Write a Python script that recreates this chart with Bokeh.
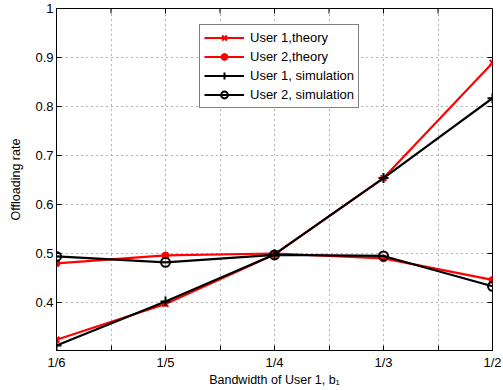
import math
from bokeh.plotting import figure
from bokeh.models import FixedTicker, Range1d, Legend
from bokeh.embed import file_html
from bokeh.resources import INLINE

# ---- data ----
categories = ["1/6", "1/5", "1/4", "1/3", "1/2"]
x_pos = [1, 2, 3, 4, 5]
user1_theory = [0.324, 0.397, 0.498, 0.654, 0.889]
user2_theory = [0.480, 0.496, 0.500, 0.490, 0.446]
user1_sim = [0.312, 0.402, 0.498, 0.654, 0.817]
user2_sim = [0.494, 0.482, 0.497, 0.495, 0.433]
x_ticks = [1, 1.5, 2, 2.5, 3, 3.5, 4, 4.5, 5]
y_ticks = [0.4, 0.5, 0.6, 0.7, 0.8, 0.9, 1.0]
y_tick_labels = ["0.4", "0.5", "0.6", "0.7", "0.8", "0.9", "1"]
x_min, x_max = 1, 5
y_min, y_max = 0.302, 1.0

FONT = "Liberation Sans"

p = figure(frame_width=436, frame_height=342, output_backend="svg", toolbar_location=None,
           x_range=Range1d(x_min, x_max), y_range=Range1d(y_min, y_max),
           min_border_left=56, min_border_right=11, min_border_top=8, min_border_bottom=38)
p.background_fill_color = "white"
p.border_fill_color = "white"
p.outline_line_color = "black"
p.outline_line_width = 1

# axes
xa = p.xaxis[0]
xa.ticker = FixedTicker(ticks=x_ticks)
xover = {}
for t in x_ticks:
    xover[t] = categories[x_pos.index(t)] if t in x_pos else ""
xa.major_label_overrides = xover
ya = p.yaxis[0]
ya.ticker = FixedTicker(ticks=y_ticks)
ya.major_label_overrides = {t: l for t, l in zip(y_ticks, y_tick_labels)}

for ax in (xa, ya):
    ax.major_tick_in = 5
    ax.major_tick_out = 0
    ax.minor_tick_in = 0
    ax.minor_tick_out = 0
    ax.axis_line_color = "black"
    ax.major_tick_line_color = "black"
    ax.major_label_text_font = FONT
    ax.major_label_text_font_size = "13px"
    ax.major_label_text_color = "black"
    ax.axis_label_text_font = FONT
    ax.axis_label_text_font_size = "12.5px"
    ax.axis_label_text_font_style = "normal"
    ax.axis_label_text_color = "black"
xa.axis_label = "Bandwidth of User 1, b\u2081"
xa.major_label_standoff = 4
xa.axis_label_standoff = 0
ya.axis_label = "Offloading rate"
ya.major_label_standoff = 3
ya.axis_label_standoff = 9

# grid
for g in (p.xgrid[0], p.ygrid[0]):
    g.grid_line_color = "#666666"
    g.grid_line_dash = "1 4"
    g.grid_line_width = 1
p.xgrid[0].ticker = FixedTicker(ticks=x_ticks)
p.ygrid[0].ticker = FixedTicker(ticks=y_ticks)

# mirrored inward tick marks on the top and right frame edges (box on)
p.ray(x=x_ticks, y=[y_max] * len(x_ticks), length=5, length_units="screen",
      angle=-math.pi / 2, line_color="black", line_width=1)
p.ray(x=[x_max] * len(y_ticks), y=y_ticks, length=5, length_units="screen",
      angle=math.pi, line_color="black", line_width=1)

RED = "#ff0000"
BLK = "#000000"

r1l = p.line(x_pos, user1_theory, line_color=RED, line_width=2.2)
r1m = p.scatter(x_pos, user1_theory, marker="x", size=8, line_color=RED, line_width=2.2)
r2l = p.line(x_pos, user2_theory, line_color=RED, line_width=2.2)
r2m = p.scatter(x_pos, user2_theory, marker="circle", size=7, line_color=RED, fill_color=RED)
r3l = p.line(x_pos, user1_sim, line_color=BLK, line_width=2.2)
r3m = p.scatter(x_pos, user1_sim, marker="cross", size=10, line_color=BLK, line_width=2)
r4l = p.line(x_pos, user2_sim, line_color=BLK, line_width=2.2)
r4m = p.scatter(x_pos, user2_sim, marker="circle", size=9, line_color=BLK, line_width=2, fill_color=None)

legend = Legend(items=[
    ("User 1,theory", [r1l, r1m]),
    ("User 2,theory", [r2l, r2m]),
    ("User 1, simulation", [r3l, r3m]),
    ("User 2, simulation", [r4l, r4m]),
], location=(143, 242))
legend.glyph_width = 40
legend.glyph_height = 17
legend.label_height = 17
legend.label_standoff = 6
legend.spacing = 2
legend.padding = 4
legend.margin = 0
legend.border_line_color = "black"
legend.border_line_width = 1
legend.background_fill_color = "white"
legend.background_fill_alpha = 1
legend.label_text_font = FONT
legend.label_text_font_size = "13px"
legend.label_text_color = "black"
p.add_layout(legend, "center")

open("out.html", "w").write(file_html(p, INLINE))
